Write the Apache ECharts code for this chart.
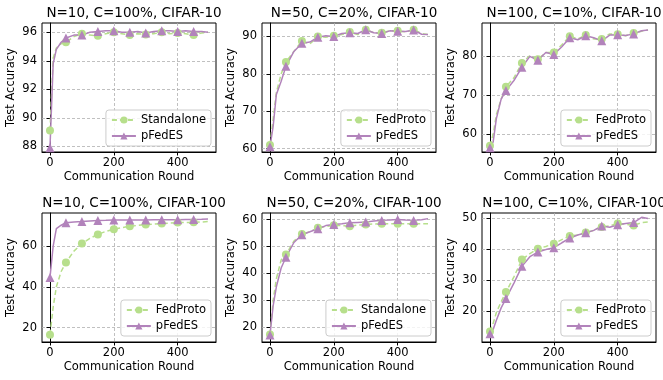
<!DOCTYPE html>
<html>
<head>
<meta charset="utf-8">
<script src="https://cdn.jsdelivr.net/npm/echarts@6/dist/echarts.min.js"></script>
<style>
  html, body { margin: 0; padding: 0; background: #fff; }
  #chart { width: 663px; height: 380px; }
</style>
</head>
<body>
<div id="chart"></div>
<script>
const rounds = [0, 10, 20, 35, 50, 75, 100, 125, 150, 175, 200, 225, 250, 275, 300, 325, 350, 375, 400, 425, 450, 475, 495];

const titles = [
  "N=10, C=100%, CIFAR-10", "N=50, C=20%, CIFAR-10", "N=100, C=10%, CIFAR-10",
  "N=10, C=100%, CIFAR-100", "N=50, C=20%, CIFAR-100", "N=100, C=10%, CIFAR-100"
];
const baselineNames = ["Standalone", "FedProto", "FedProto", "FedProto", "Standalone", "FedProto"];

const baseline1 = [89.1, 94.2, 94.9, 95.2, 95.3, 95.7, 95.9, 95.8, 95.75, 95.9, 96.0, 95.9, 95.8, 95.9, 95.85, 95.9, 96.0, 95.9, 95.95, 95.9, 95.8, 95.95, 96.0];
const pfedes1   = [87.9, 93.8, 94.8, 95.3, 95.6, 95.8, 95.8, 96.0, 96.05, 96.1, 96.1, 96.0, 96.0, 96.05, 95.95, 96.05, 96.1, 96.1, 96.05, 96.1, 96.05, 96.05, 96.0];

const baseline2 = [61.0, 68.0, 75.0, 80.0, 83.2, 86.0, 88.8, 88.0, 90.0, 89.8, 90.2, 90.5, 91.2, 90.5, 91.8, 91.0, 91.0, 91.5, 91.5, 91.2, 91.8, 90.8, 90.5];
const pfedes2   = [60.5, 66.0, 74.5, 78.0, 82.0, 86.0, 88.2, 88.5, 89.8, 90.2, 90.0, 90.8, 91.0, 90.8, 91.8, 91.0, 90.8, 91.5, 91.4, 91.3, 91.7, 90.6, 90.5];

const baseline3 = [57.0, 60.0, 65.0, 69.0, 72.2, 74.5, 78.3, 80.2, 79.3, 81.0, 81.0, 83.0, 85.2, 84.5, 85.5, 84.5, 84.5, 85.8, 85.7, 85.3, 86.0, 86.5, 86.8];
const pfedes3   = [56.5, 58.0, 64.0, 69.0, 71.2, 73.8, 77.2, 80.0, 79.0, 81.0, 80.5, 82.5, 84.8, 84.3, 85.3, 84.8, 84.0, 85.5, 85.6, 85.4, 85.8, 86.6, 86.8];

const baseline4 = [16.5, 30.0, 40.0, 47.5, 51.9, 57.5, 61.2, 63.8, 65.7, 67.2, 68.2, 69.0, 69.7, 70.1, 70.5, 70.8, 71.0, 71.3, 71.5, 71.5, 71.6, 71.8, 72.0];
const pfedes4   = [44.5, 60.0, 68.5, 70.2, 71.4, 71.8, 72.0, 72.3, 72.5, 72.6, 72.8, 72.8, 72.8, 72.8, 72.8, 72.9, 72.9, 72.9, 72.9, 73.0, 73.0, 73.1, 73.2];

const baseline5 = [17.2, 30.0, 38.0, 45.0, 47.0, 52.0, 54.7, 55.5, 57.0, 57.5, 57.9, 57.8, 57.6, 58.0, 58.2, 58.4, 58.5, 58.5, 58.5, 58.5, 58.5, 58.5, 58.5];
const pfedes5   = [17.0, 28.0, 35.0, 42.0, 46.0, 51.5, 54.4, 55.5, 56.6, 57.8, 58.2, 58.5, 58.9, 59.0, 59.1, 59.5, 59.75, 59.9, 60.1, 59.9, 59.75, 60.0, 60.4];

const baseline6 = [13.4, 16.0, 19.5, 23.0, 26.1, 31.0, 36.6, 38.5, 40.1, 40.8, 41.7, 43.0, 44.2, 44.5, 45.3, 46.0, 47.1, 47.5, 48.2, 48.0, 47.6, 48.5, 48.7];
const pfedes6   = [12.7, 14.0, 17.0, 21.0, 24.0, 29.0, 34.4, 37.5, 39.0, 39.8, 40.4, 42.0, 43.5, 44.5, 45.2, 46.0, 47.4, 47.0, 47.8, 48.2, 48.5, 50.2, 49.8];

const baselines = [baseline1, baseline2, baseline3, baseline4, baseline5, baseline6];
const pfedesAll = [pfedes1, pfedes2, pfedes3, pfedes4, pfedes5, pfedes6];

const yMins = [87.6, 59.1, 55.4, 12.9, 14.4, 10.0];
const yMaxs = [96.65, 93.6, 88.6, 76.2, 62.5, 51.6];
const yTicks = [
  [88, 90, 92, 94, 96], [60, 70, 80, 90], [60, 70, 80],
  [20, 40, 60], [20, 30, 40, 50, 60], [20, 30, 40, 50]
];
const xTicks = [0, 200, 400];

const GREEN = "#b7df8c";
const PURPLE = "#b283bb";
const FONT = "DejaVu Sans";

const colLeft = [42, 262, 482];
const rowTop = [23, 213];
const plotW = 174, plotH = 129;

function toData(vals) {
  return rounds.map((r, i) => {
    const item = { value: [r, vals[i]] };
    if (r % 50 !== 0) item.symbol = "none";
    return item;
  });
}

const grids = [], xAxes = [], yAxes = [], series = [], legends = [], titleList = [];

for (let i = 0; i < 6; i++) {
  const col = i % 3, row = Math.floor(i / 3);
  const left = colLeft[col], top = rowTop[row];
  grids.push({
    left: left, top: top, width: plotW, height: plotH,
    show: true, borderColor: "#000", borderWidth: 1, backgroundColor: "transparent"
  });
  titleList.push({
    text: titles[i],
    left: left + plotW / 2,
    top: row === 0 ? 1 : 191,
    textAlign: "center",
    textStyle: { fontFamily: FONT, fontSize: 13.5, fontWeight: "normal", color: "#000" }
  });
  xAxes.push({
    type: "value", gridIndex: i, min: -25, max: 520,
    name: "Communication Round", nameLocation: "middle", nameGap: 19,
    nameTextStyle: { fontFamily: FONT, fontSize: 11.5, color: "#000" },
    axisLine: { show: true, lineStyle: { color: "#000", width: 1 } },
    axisTick: { show: true, inside: false, length: 3.5, customValues: xTicks, lineStyle: { color: "#000" } },
    axisLabel: { customValues: xTicks, fontFamily: FONT, fontSize: 11.5, color: "#000", margin: 5 },
    splitLine: { show: true, lineStyle: { color: "#b0b0b0", type: [3, 2], width: 0.8 } }
  });
  yAxes.push({
    type: "value", gridIndex: i, min: yMins[i], max: yMaxs[i],
    name: "Test Accuracy", nameLocation: "middle", nameGap: 25,
    nameTextStyle: { fontFamily: FONT, fontSize: 11.5, color: "#000" },
    axisLine: { show: true, lineStyle: { color: "#000", width: 1 } },
    axisTick: { show: true, inside: false, length: 3.5, customValues: yTicks[i], lineStyle: { color: "#000" } },
    axisLabel: { customValues: yTicks[i], fontFamily: FONT, fontSize: 11.5, color: "#000", margin: 5 },
    splitLine: { show: true, lineStyle: { color: "#b0b0b0", type: [3, 2], width: 0.8 } }
  });
  series.push({
    name: baselineNames[i], type: "line", xAxisIndex: i, yAxisIndex: i,
    data: toData(baselines[i]),
    showAllSymbol: true, symbol: "circle", symbolSize: 8,
    itemStyle: { color: GREEN },
    lineStyle: { color: GREEN, width: 1.5, type: [5, 3] },
    emphasis: { disabled: true }, animation: false
  });
  series.push({
    name: "pFedES", type: "line", xAxisIndex: i, yAxisIndex: i,
    data: toData(pfedesAll[i]),
    showAllSymbol: true, symbol: "triangle", symbolSize: 9,
    itemStyle: { color: PURPLE },
    lineStyle: { color: PURPLE, width: 1.5 },
    emphasis: { disabled: true }, animation: false
  });
  legends.push({
    data: [baselineNames[i], "pFedES"],
    orient: "vertical",
    right: 663 - (left + plotW - 5),
    bottom: row === 0 ? 234 : 44,
    itemWidth: 24, itemHeight: 9, itemGap: 4,
    padding: [4, 5, 4, 5],
    borderColor: "#ccc", borderWidth: 1, borderRadius: 3,
    backgroundColor: "rgba(255,255,255,0.8)",
    textStyle: { fontFamily: FONT, fontSize: 11.5, color: "#000" },
    selectedMode: false
  });
}

const chart = echarts.init(document.getElementById("chart"), null, { renderer: "canvas" });
chart.setOption({
  animation: false,
  backgroundColor: "#fff",
  textStyle: { fontFamily: FONT },
  title: titleList,
  grid: grids,
  xAxis: xAxes,
  yAxis: yAxes,
  legend: legends,
  series: series
});
</script>
</body>
</html>
